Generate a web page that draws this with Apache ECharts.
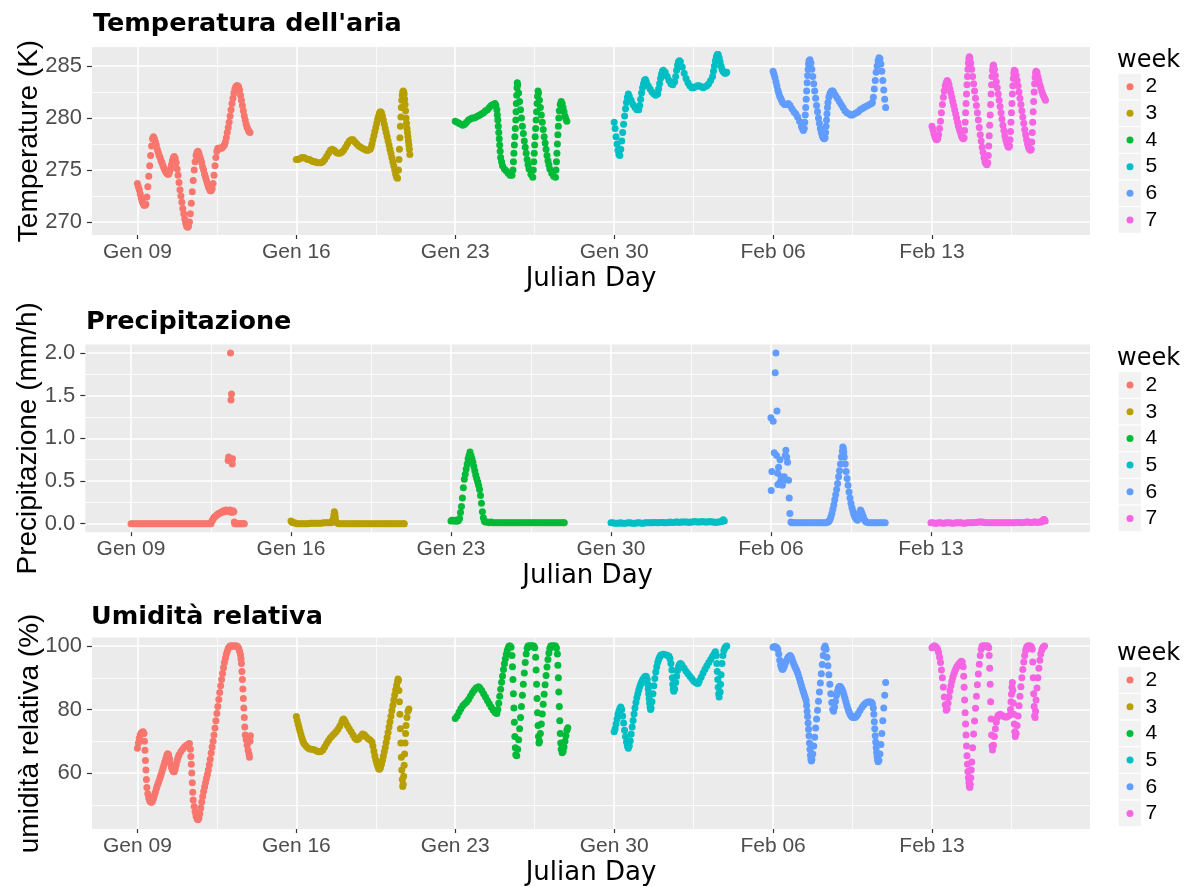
<!DOCTYPE html>
<html>
<head>
<meta charset="utf-8">
<title>Meteo gennaio - febbraio</title>
<script src="https://cdn.jsdelivr.net/npm/echarts@6/dist/echarts.min.js"></script>
<style>
html, body { margin: 0; padding: 0; background: #fff; }
#chart { width: 1190px; height: 887px; }
</style>
</head>
<body>
<div id="chart"></div>
<script>
// weeks and the day (day of year, Jan 1 = 1) each week's records start
var weeks = ['2', '3', '4', '5', '6', '7'];
var weekStart = [9, 16, 23, 30, 37, 44];

// x axis ticks
var dayTicks = [9, 16, 23, 30, 37, 44];
var dayMinor = [12.5, 19.5, 26.5, 33.5, 40.5, 47.5];
var dayLabels = ['Gen 09', 'Gen 16', 'Gen 23', 'Gen 30', 'Feb 06', 'Feb 13'];

// y axis ticks
var tempTicks = [270, 275, 280, 285];
var tempMinor = [272.5, 277.5, 282.5];
var precTicks = [0, 0.5, 1, 1.5, 2];
var precMinor = [0.25, 0.75, 1.25, 1.75];
var humTicks = [60, 80, 100];
var humMinor = [50, 70, 90];

// readings: [hours since start of week, value]
// temperatura (K)
var tempW2 = [[0,273.7],[1,273.4],[2,273.1],[3,272.7],[4,272.3],[5,272.0],[6,271.8],[7,271.6],[8,271.6],[9,271.7],[10,272.4],[11,273.4],[12,274.4],[13,275.4],[14,276.4],[15,277.3],[16,278.0],[17,278.2],[18,278.0],[19,277.7],[20,277.4],[21,277.0],[22,276.7],[23,276.4],[24,276.2],[25,275.9],[26,275.7],[27,275.4],[28,275.2],[29,275.0],[30,274.8],[31,274.7],[32,274.6],[33,274.6],[34,274.8],[35,275.1],[36,275.5],[37,275.9],[38,276.2],[39,276.3],[40,276.1],[41,275.7],[42,275.1],[43,274.5],[44,273.8],[45,273.1],[46,272.5],[47,271.9],[48,271.3],[49,270.8],[50,270.3],[51,269.9],[52,269.6],[53,269.5],[54,269.6],[55,270.0],[56,270.8],[57,271.8],[58,272.9],[59,274.0],[60,275.0],[61,275.8],[62,276.4],[63,276.7],[64,276.8],[65,276.6],[66,276.3],[67,276.0],[68,275.7],[69,275.3],[70,275.0],[71,274.6],[72,274.3],[73,274.0],[74,273.7],[75,273.4],[76,273.2],[77,273.0],[78,273.0],[79,273.2],[80,273.7],[81,274.5],[82,275.4],[83,276.2],[84,276.8],[85,277.1],[86,277.1],[87,277.1],[88,277.1],[89,277.1],[90,277.2],[91,277.3],[92,277.4],[93,277.7],[94,278.1],[95,278.6],[96,279.1],[97,279.6],[98,280.2],[99,280.8],[100,281.4],[101,281.9],[102,282.4],[103,282.8],[104,283.0],[105,283.1],[106,283.1],[107,283.0],[108,282.7],[109,282.2],[110,281.7],[111,281.2],[112,280.7],[113,280.2],[114,279.8],[115,279.4],[116,279.1],[117,278.9],[118,278.7],[119,278.6]];
var tempW3 = [[0,276.0],[2,276.0],[4,276.1],[6,276.2],[8,276.2],[10,276.1],[12,276.0],[14,276.0],[16,275.9],[18,275.8],[20,275.8],[22,275.7],[24,275.7],[26,275.7],[28,275.8],[30,276.0],[32,276.3],[34,276.6],[36,276.9],[38,277.0],[40,276.9],[42,276.7],[44,276.6],[46,276.6],[48,276.7],[50,276.9],[52,277.2],[54,277.5],[56,277.8],[58,277.9],[60,277.9],[62,277.7],[64,277.5],[66,277.3],[68,277.2],[70,277.1],[72,277.0],[74,276.9],[76,276.9],[78,277.0],[79,277.2],[80,277.5],[81,277.9],[82,278.3],[83,278.7],[84,279.1],[85,279.5],[86,279.9],[87,280.2],[88,280.5],[89,280.6],[90,280.5],[91,280.2],[92,279.8],[93,279.4],[94,279.0],[95,278.6],[96,278.2],[97,277.8],[98,277.4],[99,277.0],[100,276.6],[101,276.2],[102,275.8],[103,275.4],[104,275.0],[105,274.6],[106,274.3],[107,274.2],[108,275.0],[108.5,276.0],[109,277.0],[109.5,278.1],[110,279.2],[110.5,280.1],[111,281.0],[111.5,281.7],[112,282.2],[112.5,282.5],[113,282.6],[113.5,282.5],[114,282.3],[114.5,281.8],[115,281.3],[115.5,280.7],[116,280.0],[116.5,279.5],[117,279.0],[117.5,278.6],[118,278.2],[118.5,277.8],[119,277.4],[119.5,277.0],[120,276.5]];
var tempW4 = [[0,279.7],[2,279.6],[4,279.5],[6,279.4],[8,279.3],[10,279.4],[12,279.6],[14,279.8],[16,279.9],[18,280.0],[20,280.0],[22,280.1],[24,280.2],[26,280.3],[28,280.4],[30,280.5],[32,280.7],[34,280.8],[36,281.0],[38,281.2],[40,281.3],[42,281.4],[43,281.2],[44,280.8],[44.5,280.3],[45,279.8],[45.5,279.2],[46,278.6],[46.5,278.0],[47,277.4],[47.5,276.8],[48,276.2],[49,275.8],[50,275.4],[52,275.1],[54,274.9],[56,274.7],[58,274.5],[60,274.5],[61,275.0],[61.5,275.8],[62,276.6],[62.5,277.4],[63,278.2],[63.5,279.0],[64,279.8],[64.3,280.6],[64.6,281.4],[65,282.2],[65.3,282.9],[65.6,283.4],[66,283.2],[67,282.4],[68,281.6],[69,280.8],[70,280.0],[71,279.2],[72,278.5],[73,277.8],[74,277.2],[75,276.6],[76,276.0],[77,275.5],[78,275.1],[80,274.6],[82,274.3],[82.5,275.0],[83,275.8],[83.5,276.6],[84,277.4],[84.5,278.2],[85,279.0],[85.5,279.8],[86,280.6],[86.5,281.4],[87,282.1],[87.5,282.6],[88,282.4],[89,281.7],[90,281.0],[91,280.3],[92,279.6],[93,278.9],[94,278.2],[95,277.6],[96,277.0],[97,276.4],[98,275.9],[99,275.5],[100,275.1],[102,274.7],[104,274.4],[106,274.3],[106.5,275.0],[107,275.8],[107.5,276.6],[108,277.5],[108.5,278.4],[109,279.2],[109.5,280.0],[110,280.7],[111,281.3],[112,281.6],[113,281.4],[114,281.0],[115,280.6],[116,280.2],[117,279.9],[118,279.7]];
var tempW5 = [[0,279.6],[1,279.0],[2,278.2],[3,277.5],[4,276.9],[5,276.5],[6,276.4],[7,277.0],[8,277.8],[9,278.6],[10,279.4],[11,280.2],[12,280.9],[13,281.5],[14,282.0],[15,282.3],[16,282.1],[18,281.7],[20,281.3],[22,281.0],[24,280.8],[26,280.8],[27,281.2],[28,281.8],[29,282.4],[30,282.9],[31,283.3],[32,283.6],[33,283.7],[34,283.5],[36,283.1],[38,282.8],[40,282.5],[42,282.3],[44,282.2],[46,282.3],[47,282.8],[48,283.3],[49,283.8],[50,284.2],[51,284.5],[52,284.6],[54,284.4],[56,284.0],[58,283.6],[60,283.3],[62,283.2],[64,283.5],[65,284.0],[66,284.6],[67,285.1],[68,285.4],[69,285.5],[70,285.4],[72,284.9],[74,284.3],[76,283.8],[78,283.4],[80,283.1],[82,282.9],[84,282.9],[86,283.0],[88,283.1],[90,283.1],[92,283.0],[94,282.9],[96,283.0],[98,283.1],[100,283.3],[102,283.6],[104,284.0],[105,284.5],[106,285.0],[107,285.5],[108,285.9],[109,286.1],[110,286.1],[111,285.8],[112,285.4],[113,285.0],[114,284.7],[115,284.5],[116,284.4],[117,284.3],[118,284.3],[119,284.4]];
var tempW6 = [[0,284.5],[1,284.2],[2,283.9],[3,283.5],[4,283.1],[5,282.7],[6,282.4],[7,282.1],[8,281.9],[9,281.7],[10,281.5],[12,281.3],[14,281.3],[16,281.4],[18,281.2],[20,280.9],[22,280.6],[24,280.4],[26,280.1],[28,279.7],[30,279.2],[31,279.0],[32,278.8],[33,279.0],[33.5,279.6],[34,280.3],[34.5,281.0],[35,281.8],[35.5,282.6],[36,283.4],[36.5,284.1],[37,284.7],[37.5,285.2],[38,285.5],[39,285.6],[40,285.3],[41,284.7],[42,284.0],[43,283.3],[44,282.6],[45,281.9],[46,281.2],[47,280.6],[48,280.0],[49,279.5],[50,279.0],[51,278.6],[52,278.3],[53,278.1],[54,278.0],[55,278.1],[55.5,278.6],[56,279.2],[56.5,279.8],[57,280.4],[57.5,281.0],[58,281.5],[59,282.0],[60,282.3],[61,282.5],[62,282.6],[63,282.6],[64,282.5],[66,282.2],[68,281.9],[70,281.6],[72,281.3],[74,281.0],[76,280.7],[78,280.5],[80,280.4],[82,280.3],[84,280.3],[86,280.4],[88,280.5],[90,280.6],[92,280.8],[94,280.9],[96,281.0],[98,281.1],[100,281.2],[102,281.3],[104,281.4],[105,281.5],[106,282.0],[107,282.8],[108,283.6],[109,284.4],[110,285.0],[111,285.5],[112,285.8],[113,285.7],[114,285.2],[115,284.5],[116,283.6],[117,282.7],[118,281.8],[119,281.0]];
var tempW7 = [[0,279.2],[1,278.9],[2,278.5],[3,278.2],[4,278.0],[5,277.9],[6,278.0],[7,278.4],[8,279.0],[9,279.7],[10,280.5],[11,281.3],[12,282.0],[13,282.6],[14,283.1],[15,283.4],[16,283.6],[17,283.5],[18,283.2],[19,282.8],[20,282.4],[21,282.0],[22,281.6],[23,281.2],[24,280.8],[25,280.4],[26,280.0],[27,279.6],[28,279.2],[29,278.9],[30,278.6],[31,278.3],[32,278.1],[33,278.0],[34,278.1],[34.5,278.8],[35,279.6],[35.5,280.5],[36,281.4],[36.5,282.3],[37,283.2],[37.5,284.0],[38,284.7],[38.5,285.3],[39,285.7],[39.5,285.9],[40,285.8],[41,285.3],[42,284.7],[43,284.0],[44,283.3],[45,282.6],[46,281.9],[47,281.2],[48,280.5],[49,279.8],[50,279.1],[51,278.4],[52,277.8],[53,277.2],[54,276.7],[55,276.2],[56,275.8],[57,275.6],[58,275.5],[59,275.7],[59.5,276.4],[60,277.3],[60.5,278.3],[61,279.3],[61.5,280.3],[62,281.3],[62.5,282.3],[63,283.2],[63.5,284.0],[64,284.6],[64.5,285.0],[65,285.1],[66,284.7],[67,284.1],[68,283.5],[69,282.9],[70,282.3],[71,281.7],[72,281.1],[73,280.5],[74,279.9],[75,279.3],[76,278.8],[77,278.3],[78,277.9],[79,277.6],[80,277.3],[81,277.2],[82,277.3],[82.5,277.9],[83,278.7],[83.5,279.6],[84,280.5],[84.5,281.4],[85,282.3],[85.5,283.1],[86,283.8],[86.5,284.3],[87,284.6],[88,284.5],[89,284.1],[90,283.6],[91,283.1],[92,282.5],[93,281.9],[94,281.3],[95,280.7],[96,280.1],[97,279.5],[98,278.9],[99,278.4],[100,277.9],[101,277.5],[102,277.2],[103,277.0],[104,276.9],[105,277.0],[105.5,277.7],[106,278.6],[106.5,279.6],[107,280.6],[107.5,281.6],[108,282.5],[108.5,283.3],[109,283.9],[109.5,284.3],[110,284.5],[111,284.4],[112,284.0],[113,283.6],[114,283.2],[115,282.9],[116,282.6],[117,282.3],[118,282.1],[119,281.9],[120,281.7]];

// precipitazione (mm/h)
var precW2 = [[0,0],[2,0],[4,0],[6,0],[8,0],[10,0],[12,0],[14,0],[16,0],[18,0],[20,0],[22,0],[24,0],[26,0],[28,0],[30,0],[32,0],[34,0],[36,0],[38,0],[40,0],[42,0],[44,0],[46,0],[48,0],[50,0],[52,0],[54,0],[56,0],[58,0],[60,0],[62,0],[64,0],[66,0],[68,0],[70,0],[72,0],[74,0],[76,0],[78,0],[80,0],[82,0],[84,0],[85,0.03],[86,0.05],[87,0.07],[88,0.08],[89,0.09],[90,0.10],[91,0.11],[92,0.12],[93,0.12],[94,0.13],[95,0.13],[96,0.14],[97,0.15],[98,0.14],[99,0.15],[100,0.16],[101,0.15],[102,0.74],[102.5,0.78],[103,0.14],[104,0.16],[104.5,2.0],[105,1.45],[105.5,1.52],[106,0.13],[106.3,0.70],[106.6,0.76],[107,0.15],[108,0.14],[108.5,0.02],[109,0],[110,0],[111,0],[112,0],[113,0],[114,0],[115,0],[116,0],[117,0],[118,0],[119,0]];
var precW3 = [[0,0.03],[1,0.02],[2,0.01],[4,0.01],[6,0],[8,0],[10,0],[12,0],[14,0],[16,0],[18,0],[20,0.005],[22,0.005],[24,0.005],[26,0.005],[28,0.005],[30,0.005],[32,0.005],[34,0.01],[36,0.01],[38,0.01],[40,0.01],[42,0.01],[43,0.02],[44,0.05],[45,0.10],[45.5,0.14],[46,0.12],[46.5,0.08],[47,0.03],[48,0.01],[50,0],[52,0],[54,0],[56,0],[58,0],[60,0],[62,0],[64,0],[66,0],[68,0],[70,0],[72,0],[74,0],[76,0],[78,0],[80,0],[82,0],[84,0],[86,0],[88,0],[90,0],[92,0],[94,0],[96,0],[98,0],[100,0],[102,0],[104,0],[106,0],[108,0],[110,0],[112,0],[114,0],[116,0],[118,0],[119,0]];
var precW4 = [[0,0.03],[1,0.04],[2,0.04],[3,0.03],[4,0.03],[5,0.04],[6,0.03],[7,0.03],[8,0.04],[9,0.06],[10,0.13],[11,0.20],[12,0.30],[13,0.42],[14,0.52],[15,0.58],[16,0.64],[17,0.70],[18,0.76],[19,0.80],[20,0.84],[21,0.80],[22,0.76],[23,0.72],[24,0.67],[25,0.62],[26,0.57],[27,0.53],[28,0.49],[29,0.45],[30,0.40],[31,0.33],[32,0.24],[33,0.14],[34,0.07],[35,0.03],[36,0.02],[38,0.02],[40,0.01],[42,0.02],[44,0.01],[46,0.01],[48,0.01],[50,0.01],[52,0.01],[54,0.01],[56,0.01],[58,0.01],[60,0.01],[62,0.01],[64,0.01],[66,0.01],[68,0.01],[70,0.01],[72,0.01],[74,0.01],[76,0.01],[78,0.01],[80,0.01],[82,0.01],[84,0.01],[86,0.01],[88,0.01],[90,0.01],[92,0.01],[94,0.01],[96,0.01],[98,0.01],[100,0.01],[102,0.01],[104,0.01],[106,0.01],[108,0.01],[110,0.01],[112,0.01],[114,0.01],[116,0.01],[118,0.01],[119,0.01]];
var precW5 = [[0,0.01],[2,0.01],[4,0.005],[6,0.005],[8,0.005],[10,0.01],[12,0.005],[14,0.005],[16,0.005],[18,0.01],[20,0.01],[22,0.005],[24,0.005],[26,0.005],[28,0.01],[30,0.01],[32,0.005],[34,0.005],[36,0.01],[38,0.01],[40,0.01],[42,0.01],[44,0.01],[46,0.015],[48,0.01],[50,0.01],[52,0.015],[54,0.015],[56,0.01],[58,0.01],[60,0.015],[62,0.02],[64,0.015],[66,0.015],[68,0.02],[70,0.02],[72,0.015],[74,0.02],[76,0.02],[78,0.02],[80,0.02],[82,0.015],[84,0.02],[86,0.02],[88,0.025],[90,0.02],[92,0.02],[94,0.02],[96,0.025],[98,0.02],[100,0.02],[102,0.02],[104,0.025],[106,0.02],[108,0.02],[110,0.015],[112,0.02],[114,0.02],[116,0.025],[117,0.035],[118,0.045],[119,0.03]];
var precW6 = [[0,1.24],[0.3,0.39],[1,0.61],[2.4,1.20],[3.5,0.83],[4.5,1.77],[5.2,2.0],[5.9,0.80],[6.3,1.32],[7,0.59],[7.3,0.46],[8,0.66],[9.5,0.75],[9.8,0.49],[10.6,0.55],[12,0.45],[13,0.50],[14,0.55],[15,0.80],[15.7,0.86],[16.5,0.78],[17.4,0.72],[18.5,0.51],[19.2,0.30],[19.9,0.12],[21,0.02],[22,0.01],[24,0.01],[26,0.01],[28,0.01],[30,0.01],[32,0.01],[34,0.01],[36,0.01],[38,0.01],[40,0.01],[42,0.01],[44,0.01],[46,0.01],[48,0.01],[50,0.01],[52,0.01],[54,0.01],[56,0.01],[58,0.01],[60,0.02],[61,0.03],[62,0.05],[63,0.08],[64,0.12],[65,0.17],[66,0.22],[67,0.28],[68,0.34],[69,0.40],[70,0.47],[71,0.55],[72,0.62],[73,0.70],[74,0.78],[75,0.85],[75.5,0.90],[76,0.88],[76.5,0.84],[77,0.78],[78,0.70],[79,0.61],[80,0.53],[81,0.45],[82,0.37],[83,0.30],[84,0.24],[85,0.19],[86,0.15],[87,0.11],[88,0.08],[89,0.06],[90,0.05],[91,0.04],[92,0.08],[93,0.13],[94,0.16],[95,0.14],[96,0.11],[97,0.08],[98,0.05],[99,0.03],[100,0.02],[102,0.01],[104,0.01],[106,0.01],[108,0.01],[110,0.01],[112,0.01],[114,0.01],[116,0.01],[118,0.01],[120,0.01]];
var precW7 = [[0,0.01],[2,0.01],[4,0.005],[6,0.005],[8,0.01],[10,0.01],[12,0.005],[14,0.005],[16,0.01],[18,0.01],[20,0.01],[22,0.005],[24,0.005],[26,0.01],[28,0.01],[30,0.01],[32,0.01],[34,0.005],[36,0.005],[38,0.01],[40,0.01],[42,0.01],[44,0.01],[46,0.015],[48,0.015],[50,0.02],[52,0.02],[54,0.02],[56,0.015],[58,0.01],[60,0.01],[62,0.01],[64,0.01],[66,0.01],[68,0.01],[70,0.01],[72,0.01],[74,0.01],[76,0.01],[78,0.01],[80,0.01],[82,0.01],[84,0.01],[86,0.01],[88,0.01],[90,0.015],[92,0.015],[94,0.01],[96,0.01],[98,0.015],[100,0.02],[102,0.02],[104,0.015],[106,0.015],[108,0.02],[110,0.02],[112,0.015],[114,0.02],[116,0.02],[117,0.03],[118,0.045],[119,0.05],[120,0.03]];

// umidità relativa (%)
var humW2 = [[0,67.8],[1,69.5],[2,71.0],[3,72.0],[4,72.6],[5,72.9],[6,73.0],[7,72.5],[7.5,70.0],[8,67.2],[8.5,64.0],[9,61.0],[9.5,58.0],[10,55.5],[11,53.5],[12,52.2],[13,51.3],[14,50.9],[15,50.8],[16,51.2],[17,52.0],[18,53.0],[19,54.0],[20,55.1],[21,56.0],[22,56.8],[23,57.7],[24,58.6],[25,59.5],[26,60.5],[27,61.5],[28,62.5],[29,63.5],[30,64.5],[31,65.6],[32,66.1],[33,65.8],[34,64.5],[35,63.0],[36,61.8],[37,61.0],[38,60.5],[39,60.4],[40,61.2],[41,62.6],[42,64.0],[43,65.0],[44,65.8],[46,66.8],[48,67.6],[50,68.3],[52,68.8],[54,69.2],[55,69.3],[56,67.5],[56.5,65.2],[57,62.8],[57.5,60.0],[58,57.0],[58.5,54.0],[59,51.5],[60,49.5],[61,47.8],[62,46.5],[63,45.6],[64,45.3],[65,45.8],[66,47.2],[67,49.0],[68,50.9],[69,52.6],[70,54.2],[71,55.6],[72,57.0],[73,58.3],[74,59.6],[75,61.0],[76,62.6],[77,64.4],[78,66.3],[79,68.2],[80,70.0],[81,72.0],[82,74.2],[83,76.5],[84,78.8],[85,81.0],[86,83.2],[87,85.4],[88,87.5],[89,89.5],[90,91.4],[91,93.2],[92,94.8],[93,96.2],[94,97.4],[95,98.4],[96,99.2],[97,99.7],[98,100],[99,100],[100,100],[101,100],[102,100],[103,100],[104,100],[105,100],[106,99.8],[107,99.3],[108,98.4],[109,97.3],[109.5,96.0],[110,94.5],[110.5,92.0],[111,89.5],[111.5,86.5],[112,83.5],[112.5,80.5],[113,77.5],[113.5,74.5],[114,72.0],[115,70.5],[116,68.8],[117,67.2],[118,66.0],[118.5,65.0],[119,70.0],[119.5,71.8]];
var humW3 = [[0,77.8],[1,76.6],[2,75.4],[3,74.2],[4,73.1],[5,72.0],[6,71.0],[7,70.0],[8,69.3],[10,68.6],[12,68.0],[14,67.6],[16,67.5],[18,67.4],[20,67.2],[22,66.9],[24,66.7],[26,66.8],[28,67.3],[30,68.2],[32,69.3],[34,70.3],[36,71.1],[38,71.8],[40,72.4],[42,73.0],[44,73.8],[46,74.8],[48,76.0],[49,76.8],[50,77.0],[51,76.6],[52,76.0],[54,75.0],[56,74.0],[58,73.0],[60,72.0],[62,71.0],[64,70.5],[66,70.8],[68,71.6],[70,72.3],[72,72.1],[74,71.4],[76,70.8],[78,70.4],[80,69.8],[81,68.5],[82,67.0],[83,65.5],[84,64.2],[85,63.1],[86,62.2],[87,61.4],[88,61.2],[89,61.8],[90,62.8],[91,64.0],[92,65.3],[93,66.7],[94,68.1],[95,69.6],[96,71.2],[97,72.8],[98,74.5],[99,76.2],[100,77.9],[101,79.6],[102,81.3],[103,83.0],[104,84.6],[105,86.2],[106,87.6],[107,88.8],[107.5,89.6],[108,89.2],[108.5,86.0],[109,82.5],[109.5,78.5],[110,74.0],[110.5,69.5],[111,65.0],[111.5,61.0],[112,58.0],[112.5,55.8],[113,56.5],[113.5,59.0],[114,62.5],[114.5,66.0],[115,69.5],[115.5,72.5],[116,75.0],[117,77.5],[118,79.5],[119,80.2]];
var humW4 = [[0,77.2],[2,78.0],[4,79.2],[6,80.3],[8,81.2],[10,81.8],[12,82.4],[14,83.2],[16,84.2],[18,85.2],[20,86.1],[22,86.8],[24,87.1],[25,87.1],[26,86.8],[28,86.0],[30,85.0],[32,84.0],[34,82.9],[36,81.8],[38,80.8],[40,79.9],[42,79.2],[43,78.9],[44,78.8],[45,80.0],[46,82.0],[47,84.2],[48,86.4],[49,88.6],[50,90.6],[51,92.6],[52,94.4],[53,96.0],[54,97.4],[55,98.6],[56,99.5],[57,100],[58,100],[59,99.6],[60,97.0],[60.5,93.5],[61,89.5],[61.5,85.0],[62,80.5],[62.5,76.0],[63,71.5],[63.5,68.0],[64,65.8],[65,65.5],[66,67.5],[67,70.5],[68,74.0],[69,77.5],[70,81.0],[71,84.5],[72,88.0],[73,91.5],[74,94.8],[75,97.5],[76,99.3],[77,100],[78,100],[79,100],[80,100],[81,100],[82,100],[83,100],[84,99.5],[85,96.5],[85.5,92.5],[86,88.0],[86.5,83.5],[87,79.0],[87.5,75.0],[88,71.5],[88.5,69.5],[89,70.0],[90,72.5],[91,75.5],[92,78.6],[93,81.7],[94,84.8],[95,87.8],[96,90.7],[97,93.4],[98,95.8],[99,97.8],[100,99.2],[101,100],[102,100],[103,100],[104,100],[105,100],[106,100],[107,99.4],[108,97.5],[108.5,94.0],[109,90.0],[109.5,85.5],[110,81.0],[110.5,76.5],[111,72.5],[111.5,69.5],[112,67.5],[113,66.4],[114,66.8],[115,68.2],[116,70.0],[117,71.8],[118,73.5],[119,74.3]];
var humW5 = [[0,73.0],[1,74.0],[2,75.5],[3,77.0],[4,78.5],[5,79.5],[6,80.3],[7,80.8],[8,80.0],[9,78.0],[10,75.8],[11,73.5],[12,71.5],[13,69.8],[14,68.5],[15,67.8],[16,68.5],[17,70.2],[18,72.3],[19,74.5],[20,76.6],[21,78.6],[22,80.5],[23,82.2],[24,83.7],[25,85.0],[26,86.2],[27,87.2],[28,88.0],[29,88.7],[30,89.3],[31,89.8],[32,90.2],[33,90.5],[34,90.4],[35,89.5],[35.5,88.0],[36,86.5],[36.5,85.0],[37,83.5],[37.5,82.0],[38,80.8],[38.5,80.0],[39,80.5],[40,82.5],[41,85.0],[42,87.5],[43,89.8],[44,91.8],[45,93.5],[46,94.8],[47,95.8],[48,96.5],[49,97.0],[50,97.3],[52,97.4],[54,97.3],[56,97.1],[58,96.8],[59,96.0],[60,94.5],[61,92.5],[61.5,90.0],[62,88.0],[62.5,86.5],[63,85.8],[64,86.5],[65,88.5],[66,90.5],[67,92.3],[68,93.5],[69,94.2],[70,94.5],[71,94.3],[72,93.8],[74,93.0],[76,92.1],[78,91.3],[80,90.5],[82,89.8],[84,89.0],[86,88.5],[88,88.2],[89,88.4],[90,89.0],[92,90.2],[94,91.5],[96,92.7],[98,93.8],[100,94.8],[102,95.8],[104,96.8],[106,97.7],[107,98.2],[108,97.0],[108.5,94.5],[109,92.0],[109.5,89.5],[110,87.0],[110.5,85.0],[111,84.0],[112,85.5],[112.5,88.0],[113,91.0],[114,94.5],[115,97.0],[116,98.6],[117,99.4],[118,99.8],[119,100]];
var humW6 = [[0,99.6],[1,99.8],[2,99.8],[3,99.7],[4,99.5],[5,99.0],[6,97.5],[7,95.5],[8,94.0],[9,93.0],[10,92.6],[11,93.0],[12,93.8],[13,94.6],[14,95.3],[15,96.0],[16,96.5],[17,96.8],[18,97.0],[19,96.6],[20,95.9],[21,95.1],[22,94.3],[23,93.6],[24,92.9],[25,92.3],[26,91.5],[27,90.6],[28,89.6],[29,88.6],[30,87.6],[31,86.6],[32,85.6],[33,84.7],[34,83.8],[35,82.8],[35.5,81.3],[36,79.5],[36.5,77.8],[37,75.8],[37.5,73.8],[38,71.8],[38.5,69.5],[39,67.5],[39.5,65.6],[40,64.4],[40.5,63.8],[41,64.3],[42,66.0],[43,68.5],[44,71.3],[45,74.2],[46,77.0],[47,79.8],[48,82.6],[49,85.5],[50,88.4],[51,91.3],[52,94.2],[53,97.0],[54,99.3],[55,100],[56,99.0],[57,96.5],[58,93.8],[59,91.0],[60,88.0],[61,85.0],[62,82.2],[63,80.0],[64,79.5],[65,80.8],[66,82.6],[67,84.4],[68,85.8],[69,86.8],[70,87.3],[71,87.3],[72,86.9],[73,86.3],[74,85.5],[75,84.6],[76,83.6],[77,82.5],[78,81.4],[79,80.4],[80,79.5],[81,78.8],[82,78.2],[83,77.8],[84,77.6],[85,77.5],[86,77.5],[87,77.6],[88,77.9],[89,78.3],[90,78.8],[92,79.8],[94,80.7],[96,81.5],[98,82.1],[100,82.4],[102,82.5],[104,82.3],[105,81.8],[106,80.5],[106.5,78.5],[107,76.2],[107.5,74.0],[108,71.8],[108.5,69.8],[109,68.0],[109.5,66.5],[110,65.2],[110.5,64.2],[111,63.6],[112,64.0],[113,66.0],[114,69.0],[115,72.5],[116,76.5],[117,80.5],[118,84.5],[119,88.5]];
var humW7 = [[0,99.5],[1,99.8],[2,100],[3,100],[4,99.8],[5,99.5],[6,99.0],[7,98.0],[8,96.5],[9,94.8],[10,92.5],[11,90.0],[12,87.0],[13,84.0],[14,81.5],[15,79.8],[16,80.3],[17,82.0],[18,84.0],[19,85.9],[20,87.5],[21,88.9],[22,90.1],[23,91.1],[24,92.0],[25,92.7],[26,93.3],[27,93.8],[28,94.2],[29,94.6],[30,94.9],[31,95.2],[32,95.0],[33,93.5],[33.5,90.5],[34,87.0],[34.5,83.0],[35,79.0],[35.5,75.5],[36,72.0],[36.5,68.5],[37,65.5],[37.5,62.8],[38,60.5],[38.5,58.5],[39,57.0],[39.5,55.8],[40,55.5],[40.5,56.5],[41,58.5],[41.5,61.0],[42,63.5],[43,68.0],[44,72.3],[45,76.4],[46,80.4],[47,84.2],[48,87.8],[49,91.2],[50,94.3],[51,97.0],[52,99.0],[53,100],[54,100],[55,100],[56,100],[57,100],[58,100],[59,100],[60,99.5],[60.5,97.0],[61,93.0],[61.5,88.0],[62,82.5],[62.5,77.0],[63,72.0],[63.5,68.5],[64,67.3],[65,68.8],[66,71.5],[67,74.0],[68,76.0],[69,77.4],[70,78.2],[72,78.5],[74,78.2],[76,77.8],[78,77.6],[80,77.8],[82,78.2],[83,80.0],[83.5,82.5],[84,84.8],[84.5,87.0],[85,88.5],[85.5,86.0],[86,82.0],[86.5,78.5],[87,75.5],[87.5,73.0],[88,71.5],[89,72.5],[90,75.0],[91,78.0],[92,81.2],[93,84.2],[94,87.2],[95,90.0],[96,92.6],[97,95.0],[98,97.0],[99,98.6],[100,99.6],[101,100],[102,100],[103,100],[104,100],[105,99.8],[106,99.0],[106.5,95.0],[107,90.0],[107.5,85.0],[108,81.0],[108.5,78.0],[109,77.5],[109.5,79.5],[110,83.0],[111,86.8],[112,90.0],[113,93.0],[114,95.5],[115,97.5],[116,98.8],[117,99.5],[118,99.8],[119,100]];

var weekColors = ['#F8766D', '#B79F00', '#00BA38', '#00BFC4', '#619CFF', '#F564E3'];
var FONT = 'DejaVu Sans';
var LABEL_FONT = 'Liberation Sans';

var panels = [
  { title: "Temperatura dell'aria", yTitle: 'Temperature (K)',
    data: [tempW2, tempW3, tempW4, tempW5, tempW6, tempW7],
    ticks: tempTicks, minor: tempMinor, ymin: 268.75, ymax: 286.83,
    fmt: function (v) { return String(v); },
    left: 92, top: 47, height: 188, titleTop: 11, titleLeft: 93, yTitleX: 29, keyTop: 73.3 },
  { title: 'Precipitazione', yTitle: 'Precipitazione (mm/h)',
    data: [precW2, precW3, precW4, precW5, precW6, precW7],
    ticks: precTicks, minor: precMinor, ymin: -0.1, ymax: 2.1,
    fmt: function (v) { return v.toFixed(1); },
    left: 85.3, top: 344.5, height: 187.7, titleTop: 309, titleLeft: 86, yTitleX: 28, keyTop: 371.7 },
  { title: 'Umidità relativa', yTitle: 'umidità relativa (%)',
    data: [humW2, humW3, humW4, humW5, humW6, humW7],
    ticks: humTicks, minor: humMinor, ymin: 42.4, ymax: 102.7,
    fmt: function (v) { return String(v); },
    left: 92, top: 637.5, height: 191.8, titleTop: 604, titleLeft: 91, yTitleX: 30, keyTop: 666.7 }
];

var grids = [], xAxes = [], yAxes = [], series = [], titles = [], legends = [], graphics = [];
var keyH = 26.67;

panels.forEach(function (p, i) {
  grids.push({ left: p.left, right: 100, top: p.top, height: p.height,
    show: true, backgroundColor: '#EBEBEB', borderWidth: 0 });

  // major x axis
  xAxes.push({
    gridIndex: i, type: 'value', min: 7, max: 50.96,
    name: 'Julian Day', nameLocation: 'middle', nameGap: 31,
    nameTextStyle: { fontFamily: FONT, fontSize: 26, color: '#000' },
    axisLine: { show: false, onZero: false },
    axisTick: { show: true, customValues: dayTicks, length: 4, lineStyle: { color: '#333', width: 1.2 } },
    axisLabel: { show: true, customValues: dayTicks, margin: 7, fontFamily: LABEL_FONT, fontSize: 21, color: '#4D4D4D',
      formatter: function (v) { var k = dayTicks.indexOf(Math.round(v)); return k < 0 ? '' : dayLabels[k]; } },
    splitLine: { show: true, lineStyle: { color: '#fff', width: 1.6 } }
  });
  // minor x grid lines
  xAxes.push({
    gridIndex: i, type: 'value', min: 7, max: 50.96,
    axisLine: { show: false, onZero: false },
    axisTick: { show: false, customValues: dayMinor },
    axisLabel: { show: false },
    splitLine: { show: true, lineStyle: { color: '#fff', width: 0.8 } }
  });
  // major y axis
  yAxes.push({
    gridIndex: i, type: 'value', min: p.ymin, max: p.ymax,
    axisLine: { show: false, onZero: false },
    axisTick: { show: true, customValues: p.ticks, length: 5, lineStyle: { color: '#333', width: 1.2 } },
    axisLabel: { show: true, customValues: p.ticks, margin: 10, fontFamily: LABEL_FONT, fontSize: 22, color: '#4D4D4D', formatter: p.fmt },
    splitLine: { show: true, lineStyle: { color: '#fff', width: 1.6 } }
  });
  // minor y grid lines
  yAxes.push({
    gridIndex: i, type: 'value', min: p.ymin, max: p.ymax,
    axisLine: { show: false, onZero: false },
    axisTick: { show: false, customValues: p.minor },
    axisLabel: { show: false },
    splitLine: { show: true, lineStyle: { color: '#fff', width: 0.8 } }
  });

  p.data.forEach(function (arr, w) {
    series.push({
      type: 'scatter', name: weeks[w],
      xAxisIndex: 2 * i, yAxisIndex: 2 * i,
      symbol: 'circle', symbolSize: 7, silent: true,
      itemStyle: { color: weekColors[w], opacity: 1 },
      data: arr.map(function (d) { return [weekStart[w] + d[0] / 24, d[1]]; })
    });
  });

  titles.push({ text: p.title, left: p.titleLeft, top: p.titleTop, padding: 0,
    textStyle: { fontFamily: FONT, fontWeight: 'bold', fontSize: 25.5, color: '#000' } });

  legends.push({
    orient: 'vertical', left: 1126.5, top: p.keyTop, padding: 0,
    itemWidth: 7, itemHeight: 7, itemGap: 0, icon: 'circle', selectedMode: false, z: 5,
    data: weeks,
    textStyle: { fontFamily: LABEL_FONT, fontSize: 21, color: '#000', lineHeight: keyH, padding: [0, 0, 0, 7] }
  });

  graphics.push({
    type: 'text', x: p.yTitleX, y: p.top + p.height / 2, rotation: Math.PI / 2,
    style: { text: p.yTitle, font: '28px "Liberation Sans"', fill: '#000',
      align: 'center', verticalAlign: 'middle', textAlign: 'center', textVerticalAlign: 'middle' }
  });
  graphics.push({
    type: 'text', x: 1117, y: p.keyTop - 12.5,
    style: { text: 'week', font: '24px "DejaVu Sans"', fill: '#000',
      align: 'left', verticalAlign: 'middle', textAlign: 'left', textVerticalAlign: 'middle' }
  });
  weeks.forEach(function (wk, k) {
    graphics.push({
      type: 'rect', z: 0,
      shape: { x: 1118, y: p.keyTop + k * keyH, width: 23.5, height: keyH },
      style: { fill: '#F2F2F2', stroke: '#fff', lineWidth: 1 }
    });
  });
});

var myChart = echarts.init(document.getElementById('chart'));
var option = {
  animation: false,
  backgroundColor: '#fff',
  title: titles,
  legend: legends,
  grid: grids,
  xAxis: xAxes,
  yAxis: yAxes,
  graphic: { elements: graphics },
  series: series
};
myChart.setOption(option);
</script>
</body>
</html>
